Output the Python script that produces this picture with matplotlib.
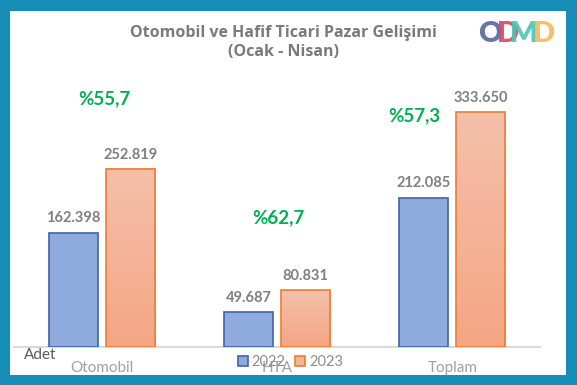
import numpy as np
import matplotlib
matplotlib.use("Agg")
import matplotlib.pyplot as plt
from matplotlib.patches import Rectangle
from matplotlib.lines import Line2D
from matplotlib.colors import LinearSegmentedColormap

categories = ["Otomobil", "HTA", "Toplam"]
series_names = ["2022", "2023"]
values_2022 = [162398, 49687, 212085]
values_2023 = [252819, 80831, 333650]
value_labels_2022 = ["162.398", "49.687", "212.085"]
value_labels_2023 = ["252.819", "80.831", "333.650"]
growth_labels = ["%55,7", "%62,7", "%57,3"]
title_lines = ["Otomobil ve Hafif Ticari Pazar Gelişimi", "(Ocak - Nisan)"]
unit_label = "Adet"

W, H = 577, 385
fig = plt.figure(figsize=(W / 100, H / 100), dpi=100)
fig.patch.set_facecolor("#168db6")
# white inner panel
fig.add_artist(Rectangle((10 / W, (H - 375) / H), 556 / W, 364 / H,
                         transform=fig.transFigure, facecolor="white",
                         edgecolor="none", zorder=0))

FONT = "Lato"
GRAY = "#7f7f7f"

ax = fig.add_axes([14 / W, (H - 347) / H, 526 / W, 247 / H])
ax.set_facecolor("none")
ymax = 333650 * 247 / 235

x = np.arange(len(categories))
bw = 0.28
off = 0.163

blue_face = "#8faadc"
blue_edge = "#3e64a8"
orange_edge = "#ed7d31"

ax.bar(x - off, values_2022, width=bw, color=blue_face, edgecolor=blue_edge,
       linewidth=1.2, zorder=3)
# orange bars with vertical gradient
grad = np.linspace(0, 1, 100).reshape(-1, 1)
cmap = LinearSegmentedColormap.from_list("og", ["#f4a684", "#f5c0aa"])
bars23 = ax.bar(x + off, values_2023, width=bw, facecolor="none",
                edgecolor=orange_edge, linewidth=1.2, zorder=4)
for b in bars23:
    x0 = b.get_x()
    ax.imshow(grad, extent=(x0, x0 + b.get_width(), 0, b.get_height()),
              origin="lower", cmap=cmap, aspect="auto", zorder=3)
ax.set_xlim(-0.5, 2.5)
ax.set_ylim(0, ymax)

for i in range(len(categories)):
    ax.text(x[i] - off, values_2022[i] + ymax * 0.03, value_labels_2022[i],
            ha="center", va="bottom", fontsize=10.5, fontweight="bold",
            color=GRAY, family=FONT)
    ax.text(x[i] + off, values_2023[i] + ymax * 0.03, value_labels_2023[i],
            ha="center", va="bottom", fontsize=10.5, fontweight="bold",
            color=GRAY, family=FONT)

growth_pos = [(0.013, 352000), (1.006, 183000), (1.781, 328500)]
for (gx, gy), lab in zip(growth_pos, growth_labels):
    ax.text(gx, gy, lab, ha="center", va="center", fontsize=13.5,
            fontweight="bold", color="#00b050", family=FONT, clip_on=False)

for s in ["top", "right", "left"]:
    ax.spines[s].set_visible(False)
ax.spines["bottom"].set_color("#d9d9d9")
ax.spines["bottom"].set_linewidth(1.5)
ax.set_yticks([])
ax.set_xticks(x)
ax.set_xticklabels(categories, fontsize=11, color="#a0a0a0", family=FONT)
ax.tick_params(axis="x", length=0, pad=10)

# legend
handles = [Line2D([], [], marker="s", linestyle="none", markersize=7,
                  markerfacecolor=blue_face, markeredgecolor=blue_edge,
                  markeredgewidth=1.2),
           Line2D([], [], marker="s", linestyle="none", markersize=7,
                  markerfacecolor="#f5b79c", markeredgecolor=orange_edge,
                  markeredgewidth=1.2)]
leg = fig.legend(handles, series_names, loc="center",
                 bbox_to_anchor=(290 / W, (H - 362) / H), ncol=2, frameon=False,
                 handlelength=0.8, handletextpad=0.2, columnspacing=0.6,
                 prop={"family": FONT, "size": 10.5})
for t in leg.get_texts():
    t.set_color("#8c8c8c")

fig.text(24 / W, (H - 355) / H, unit_label, ha="left", va="center",
         fontsize=11, color="#595959", family=FONT)

TFONT = "Open Sans"
fig.text(283 / W, (H - 33) / H, title_lines[0], ha="center", va="center",
         fontsize=11.5, fontweight="bold", color="#7a7a7a", family=TFONT)
fig.text(283 / W, (H - 52) / H, title_lines[1], ha="center", va="center",
         fontsize=11.5, fontweight="bold", color="#7a7a7a", family=TFONT)

# logo
logo_letters = ["O", "D", "M", "D"]
logo_colors = ["#56679a", "#e0455e", "#4cc4b6", "#f6bb55"]
logo_x = [478, 497, 510, 533]
for L, c, lx in zip(logo_letters, logo_colors, logo_x):
    fig.text(lx / W, (H - 34) / H, L, ha="left", va="center", fontsize=21,
             fontweight="heavy", color=c, alpha=0.9, family=FONT)

fig.savefig("out.png", dpi=100, facecolor=fig.get_facecolor())
